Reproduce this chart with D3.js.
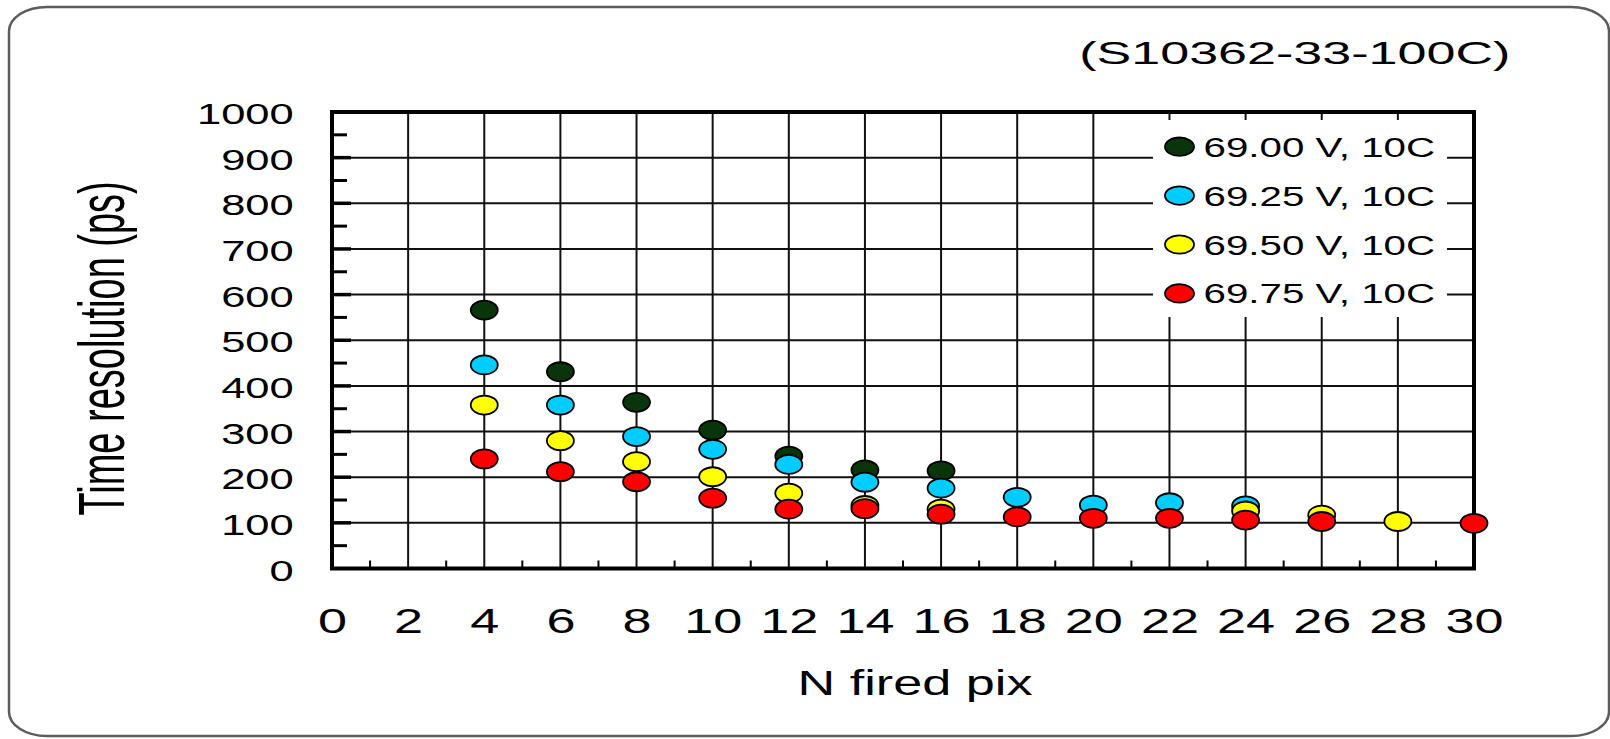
<!DOCTYPE html>
<html>
<head>
<meta charset="utf-8">
<script src="https://cdn.jsdelivr.net/npm/d3@7"></script>
<style>
  html, body { margin: 0; padding: 0; background: #fff; }
  svg { display: block; font-family: "Liberation Sans", Arial, sans-serif; }
</style>
</head>
<body>
<svg id="chart" width="1610" height="739"></svg>
<script>
// Axis ticks
const xTicks = [0, 2, 4, 6, 8, 10, 12, 14, 16, 18, 20, 22, 24, 26, 28, 30];
const yTicks = [0, 100, 200, 300, 400, 500, 600, 700, 800, 900, 1000];

// Number of fired pixels (x positions of the measurements)
const nFired = [4, 6, 8, 10, 12, 14, 16, 18, 20, 22, 24, 26, 28, 30];

// Time resolution (ps) per bias voltage, null = not measured
const res6900 = [566, 431, 364, 303, 246, 216, 214, null, null, null, null, null, null, null];
const res6925 = [446, 358, 289, 261, 228, 189, 176, 156, 139, 144, 137, null, null, null];
const res6950 = [358, 280, 234, 201, 165, 138, 130, null, null, null, 126, 117, 103, null];
const res6975 = [240, 212, 190, 154, 130, 131, 119, 113, 110, 110, 106, 103, null, 99];

const seriesLabels = ["69.00 V, 10C", "69.25 V, 10C", "69.50 V, 10C", "69.75 V, 10C"];
const seriesColors = ["#0a350a", "#00ccff", "#ffff00", "#ff0000"];
const seriesValues = [res6900, res6925, res6950, res6975];

const titleText = "(S10362-33-100C)";
const xTitle = "N fired pix";
const yTitle = "Time resolution (ps)";

const svg = d3.select("#chart");

// Rounded outer panel
svg.append("rect")
  .attr("x", 9).attr("y", 7).attr("width", 1600).attr("height", 729)
  .attr("rx", 38).attr("ry", 24)
  .attr("fill", "#fff").attr("stroke", "#5c5c5c").attr("stroke-width", 2.5);

const x = d3.scaleLinear().domain([0, 30]).range([332, 1474]);
const y = d3.scaleLinear().domain([0, 1000]).range([568.5, 112]);

// Grid
const grid = svg.append("g").attr("stroke", "#111").attr("stroke-width", 2);
grid.selectAll("line.vx").data(xTicks.filter(d => d > 0 && d < 30)).join("line")
  .attr("x1", d => x(d)).attr("x2", d => x(d))
  .attr("y1", y(1000)).attr("y2", y(0));
grid.selectAll("line.hy").data(yTicks.filter(d => d > 0 && d < 1000)).join("line")
  .attr("y1", d => y(d)).attr("y2", d => y(d))
  .attr("x1", x(0)).attr("x2", x(30));

// Inner ticks on left axis (major at labels, minor halfway)
const ticks = svg.append("g").attr("stroke", "#000");
ticks.selectAll("line.maj").data(yTicks.filter(d => d > 0 && d < 1000)).join("line")
  .attr("x1", x(0)).attr("x2", x(0) + 19)
  .attr("y1", d => y(d)).attr("y2", d => y(d)).attr("stroke-width", 3.5);
ticks.selectAll("line.min").data(d3.range(50, 1000, 100)).join("line")
  .attr("x1", x(0)).attr("x2", x(0) + 15)
  .attr("y1", d => y(d)).attr("y2", d => y(d)).attr("stroke-width", 3);
// Minor ticks on bottom axis at odd values
ticks.selectAll("line.bx").data(d3.range(1, 30, 2)).join("line")
  .attr("x1", d => x(d)).attr("x2", d => x(d))
  .attr("y1", y(0)).attr("y2", y(0) - 8).attr("stroke-width", 2);

// Plot frame
svg.append("rect")
  .attr("x", x(0)).attr("y", y(1000))
  .attr("width", x(30) - x(0)).attr("height", y(0) - y(1000))
  .attr("fill", "none").attr("stroke", "#000").attr("stroke-width", 4);

// Axis labels through d3 axes
const gY = svg.append("g").attr("transform", `translate(${x(0)},0)`)
  .call(d3.axisLeft(y).tickValues(yTicks).tickFormat(d3.format("d")).tickSize(0));
gY.select(".domain").remove();
gY.selectAll("text")
  .attr("x", null).attr("dy", null)
  .attr("text-anchor", "end")
  .attr("font-size", 29).attr("fill", "#000")
  .attr("font-family", "Liberation Sans, Arial, sans-serif")
  .attr("transform", "translate(-38.3,11.5) scale(1.5,1)");

const gX = svg.append("g").attr("transform", `translate(0,${y(0)})`)
  .call(d3.axisBottom(x).tickValues(xTicks).tickFormat(d3.format("d")).tickSize(0));
gX.select(".domain").remove();
gX.selectAll("text")
  .attr("y", null).attr("dy", null)
  .attr("text-anchor", "middle")
  .attr("font-size", 36).attr("fill", "#000")
  .attr("font-family", "Liberation Sans, Arial, sans-serif")
  .attr("transform", "translate(0,64.5) scale(1.45,1)");

// Titles
svg.append("text")
  .attr("transform", "translate(1294.8,64.3) scale(1.68,1)")
  .attr("text-anchor", "middle").attr("font-size", 31).attr("fill", "#000")
  .text(titleText);

svg.append("text")
  .attr("transform", "translate(915,695) scale(1.45,1)")
  .attr("text-anchor", "middle").attr("font-size", 36).attr("fill", "#000")
  .text(xTitle);

svg.append("text")
  .attr("transform", "translate(123.5,348.4) rotate(-90) scale(1,1.71)")
  .attr("text-anchor", "middle").attr("font-size", 38).attr("fill", "#000")
  .text(yTitle);

// Legend (white panel over the grid)
svg.append("rect")
  .attr("x", 1153).attr("y", 120).attr("width", 294).attr("height", 197)
  .attr("fill", "#fff");
const legend = svg.append("g");
seriesLabels.forEach((label, i) => {
  const cy = 146.7 + i * 48.9;
  legend.append("ellipse")
    .attr("cx", 1179.5).attr("cy", cy).attr("rx", 14.5).attr("ry", 9.2)
    .attr("fill", seriesColors[i]).attr("stroke", "#000").attr("stroke-width", 1.8);
  legend.append("text")
    .attr("transform", `translate(1203.5,${cy + 10}) scale(1.44,1)`)
    .attr("font-size", 28).attr("fill", "#000")
    .text(label);
});

// Data points
seriesValues.forEach((vals, i) => {
  const pts = nFired.map((n, j) => ({ n, v: vals[j] })).filter(d => d.v != null);
  svg.append("g").selectAll("ellipse").data(pts).join("ellipse")
    .attr("cx", d => x(d.n)).attr("cy", d => y(d.v))
    .attr("rx", 13.5).attr("ry", 9.5)
    .attr("fill", seriesColors[i]).attr("stroke", "#000").attr("stroke-width", 1.8);
});
</script>
</body>
</html>
